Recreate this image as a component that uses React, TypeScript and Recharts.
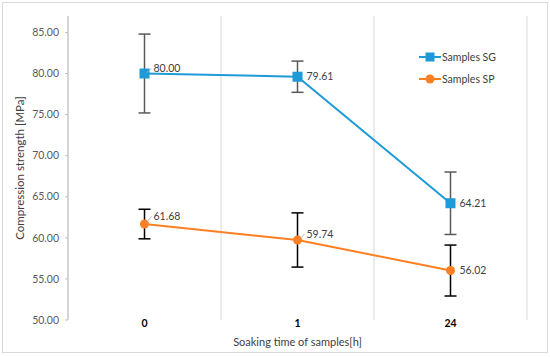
import {
  LineChart,
  Line,
  XAxis,
  YAxis,
  CartesianGrid,
  ErrorBar,
  LabelList,
  Legend,
} from 'recharts'

const categories = ['0', '1', '24']
const sgValues = [80.0, 79.61, 64.21]
const sgErrors = [4.8, 1.9, 3.8]
const spValues = [61.68, 59.74, 56.02]
const spErrors = [1.8, 3.3, 3.1]
const yTicks = [50, 55, 60, 65, 70, 75, 80, 85]
const yDomain = [50, 87]
const bandEdges = [0, 1, 2, 3]

const BLUE = '#1f9ad8'
const ORANGE = '#ff7f22'
const FONT = 'Lato, "Open Sans", sans-serif'
const TEXT = '#404040'

// label lift per point (px), so the numbers sit like the original
const sgLift = [-5, 0, 0]
const spLift = [-8, -6, 0]
const sgLeader = [true, false, false]
const spLeader = [true, true, false]

const data = categories.map((label, i) => ({
  label,
  band: i + 0.5,
  sg: sgValues[i],
  sgErr: sgErrors[i],
  sp: spValues[i],
  spErr: spErrors[i],
}))

const series = [
  { name: 'Samples SG', color: BLUE, shape: 'square' },
  { name: 'Samples SP', color: ORANGE, shape: 'circle' },
]

function makeLabel(lift: number[], leader: boolean[], dx: number) {
  return (props: any) => {
    const { x, y, value, index } = props
    const ty = y + lift[index]
    return (
      <g>
        {leader[index] && (
          <line x1={x + 2} y1={y - 1} x2={x + dx - 2} y2={ty} stroke="#a6a6a6" strokeWidth={0.8} />
        )}
        <text x={x + dx} y={ty} dy="0.35em" fontSize={10.5} fontFamily={FONT} fill={TEXT}>
          {Number(value).toFixed(2)}
        </text>
      </g>
    )
  }
}

function SquareDot(props: any) {
  const { cx, cy, index } = props
  return <rect key={`sq-${index}`} x={cx - 5} y={cy - 5} width={10} height={10} fill={BLUE} />
}

function LegendBox() {
  return (
    <div style={{ fontFamily: FONT, fontSize: 10.5, color: TEXT }}>
      {series.map((s) => (
        <div key={s.name} style={{ display: 'flex', alignItems: 'center', height: 22 }}>
          <svg width={22} height={12} style={{ marginRight: 1 }}>
            <line x1={0} y1={6} x2={22} y2={6} stroke={s.color} strokeWidth={2} />
            {s.shape === 'square' ? (
              <rect x={6.5} y={1.5} width={9} height={9} fill={s.color} />
            ) : (
              <circle cx={11} cy={6} r={4.5} fill={s.color} />
            )}
          </svg>
          <span>{s.name}</span>
        </div>
      ))}
    </div>
  )
}

export default function App() {
  return (
    <div style={{ position: 'relative', width: 550, height: 357, background: '#fff' }}>
      <style>{'body{margin:0}'}</style>
      <div
        style={{
          position: 'absolute',
          left: 2,
          top: 2,
          width: 544,
          height: 349,
          border: '1px solid #d9d9d9',
          pointerEvents: 'none',
        }}
      />
      <LineChart width={550} height={357} data={data} margin={{ top: 16, right: 23, bottom: 7, left: 0 }}>
        <XAxis xAxisId="grid" type="number" dataKey="band" domain={[0, 3]} ticks={bandEdges} hide />
        <CartesianGrid xAxisId="grid" horizontal={false} stroke="#d9d9d9" strokeWidth={1} />
        <XAxis
          dataKey="label"
          scale="band"
          axisLine={false}
          tickLine={false}
          tickSize={0}
          tickMargin={0}
          height={30}
          tick={{ fontSize: 10.5, fontWeight: 700, fill: '#000', fontFamily: FONT }}
          label={{
            value: 'Soaking time of samples[h]',
            position: 'insideBottom',
            offset: 4,
            style: { fontSize: 11, fill: TEXT, fontFamily: FONT },
          }}
        />
        <YAxis
          domain={yDomain}
          ticks={yTicks}
          width={68}
          tickFormatter={(v: number) => v.toFixed(2)}
          axisLine={{ stroke: '#bfbfbf' }}
          tickLine={{ stroke: '#bfbfbf' }}
          tickSize={3}
          tickMargin={6}
          tick={{ fontSize: 10.5, fill: '#595959', fontFamily: FONT }}
          label={{
            value: 'Compression strength [MPa]',
            angle: -90,
            position: 'insideLeft',
            offset: 20,
            style: { textAnchor: 'middle', fontSize: 11.5, fill: TEXT, fontFamily: FONT },
          }}
        />
        <Legend
          layout="vertical"
          align="center"
          verticalAlign="middle"
          wrapperStyle={{ left: 419, top: 46, width: 110 }}
          content={() => <LegendBox />}
        />
        <Line
          dataKey="sg"
          name="Samples SG"
          stroke={BLUE}
          strokeWidth={2}
          dot={SquareDot}
          activeDot={false}
          isAnimationActive={false}
        >
          <ErrorBar dataKey="sgErr" direction="y" width={6} stroke="#595959" strokeWidth={1.5} />
          <LabelList dataKey="sg" content={makeLabel(sgLift, sgLeader, 9)} />
        </Line>
        <Line
          dataKey="sp"
          name="Samples SP"
          stroke={ORANGE}
          strokeWidth={2}
          dot={{ r: 4.5, fill: ORANGE, stroke: ORANGE, strokeWidth: 0 }}
          activeDot={false}
          isAnimationActive={false}
        >
          <ErrorBar dataKey="spErr" direction="y" width={6} stroke="#000" strokeWidth={1.5} />
          <LabelList dataKey="sp" content={makeLabel(spLift, spLeader, 9)} />
        </Line>
      </LineChart>
    </div>
  )
}
